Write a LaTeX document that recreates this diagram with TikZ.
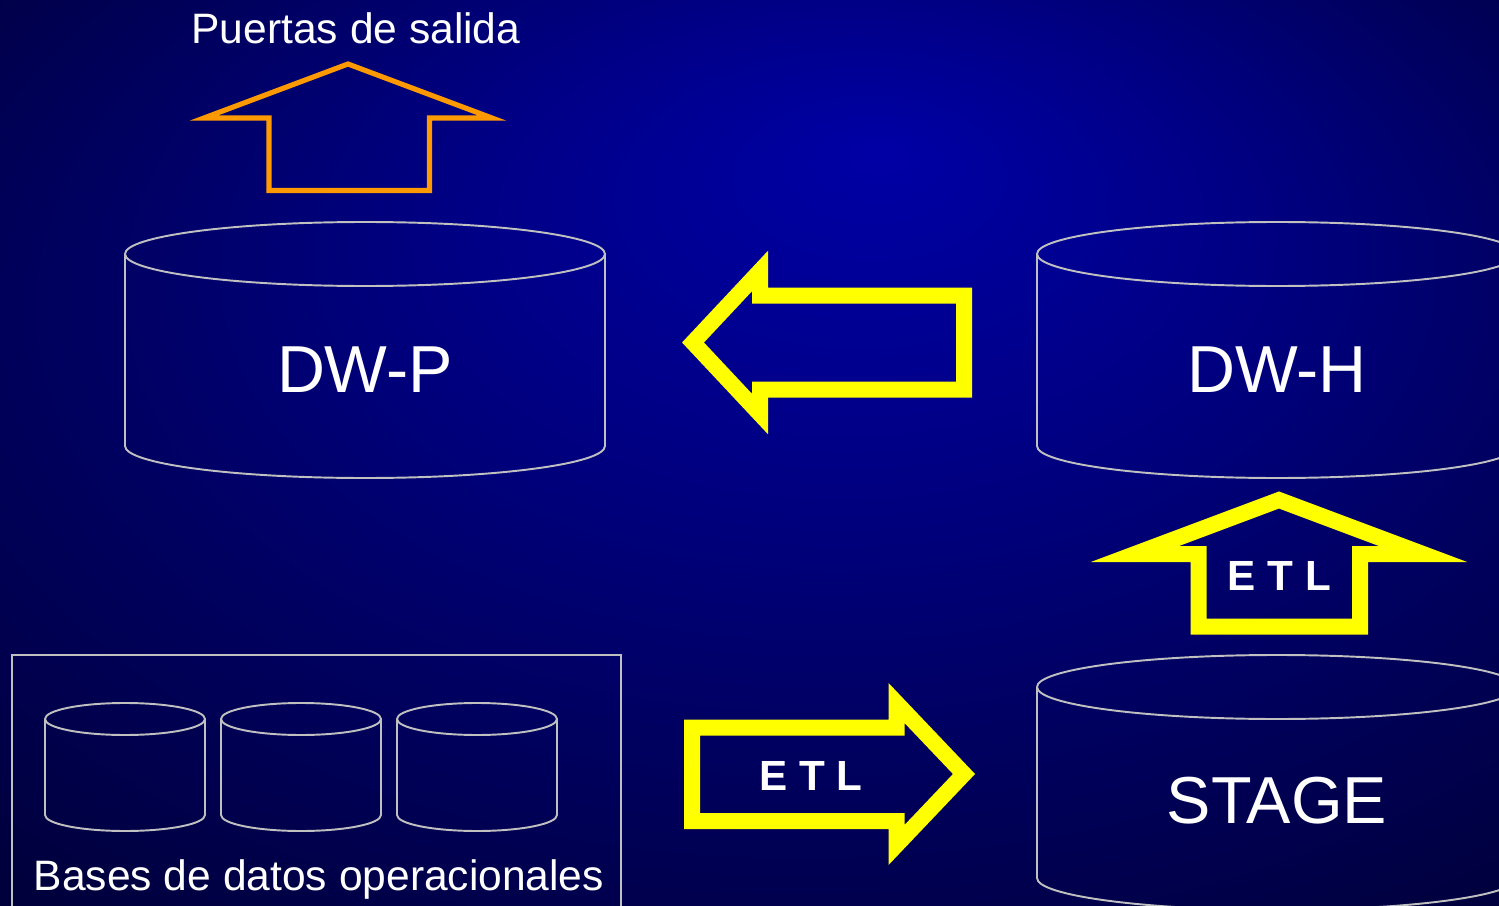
\documentclass[tikz,border=0pt]{standalone}
\usepackage{fontspec}
\setmainfont{Liberation Sans}
\usepackage{xcolor}
\usepackage{tikz}
\definecolor{dwgrey}{RGB}{192,192,192}
\definecolor{etlyellow}{RGB}{255,255,0}
\definecolor{gateorange}{RGB}{255,153,0}
\definecolor{bgglowA}{RGB}{0,0,165}
\definecolor{bgglowB}{RGB}{0,0,135}
\definecolor{bgglowC}{RGB}{0,0,95}
\definecolor{bgglowD}{RGB}{0,0,60}
\definecolor{bgglowE}{RGB}{0,0,46}
\pgfdeclareradialshading{bgglow}{\pgfpoint{4.4bp}{16.7bp}}{%
  color(0bp)=(bgglowA); color(12bp)=(bgglowB); color(25bp)=(bgglowC);
  color(38bp)=(bgglowD); color(50bp)=(bgglowE)}

\begin{document}
\begin{tikzpicture}[
  x=0.01cm, y=-0.01cm,
  drumline/.style={draw=dwgrey, line width=0.55pt},
  drumtext/.style={text=white, font=\fontsize{18.9}{20}\selectfont, anchor=base, inner sep=0pt},
  captext/.style={text=white, font=\fontsize{12.1}{14}\selectfont, anchor=base, inner sep=0pt},
  etltext/.style={text=white, font=\fontsize{12}{14}\selectfont\bfseries, anchor=base, inner sep=0pt},
  etlarrow/.style={draw=etlyellow, line width=4.55pt},
  gatearrow/.style={draw=gateorange, line width=1.45pt},
  pics/drum/.style n args={3}{code={
    \draw[drumline] (0,0) ellipse [x radius=#1, y radius=#2];
    \draw[drumline] (-#1,0) -- (-#1,#3)
      arc [start angle=180, end angle=0, x radius=#1, y radius=#2] -- (#1,0);
  }}]

\useasboundingbox (0,0) rectangle (1499,906);
\clip (0,0) rectangle (1499,906);
\shade[shading=bgglow] (0,0) rectangle (1499,906);

% data stores
\pic at (365,254) {drum={240}{32}{192}};
\pic at (1277,254) {drum={240}{32}{192}};
\pic at (1277,687) {drum={240}{32}{191}};
\node[drumtext] (dwp) at (365,392) {DW-P};
\node[drumtext] (dwh) at (1277,392) {DW-H};
\node[drumtext] (stage) at (1277,823) {STAGE};

% operational sources
\draw[drumline] (12,655) rectangle (621,930);
\pic at (125,719) {drum={80}{16}{96}};
\pic at (301,719) {drum={80}{16}{96}};
\pic at (477,719) {drum={80}{16}{96}};
\node[captext] (opdb) at (319,890) {Bases de datos operacionales};

% output gates
\node[captext] (gates) at (356,43) {Puertas de salida};
\draw[gatearrow] (269,118) -- (204,118) -- (348,64) -- (492,118)
  -- (429.5,118) -- (429.5,190.5) -- (269,190.5) -- cycle;

% flows
\draw[etlarrow] (964,295.5) -- (760,295.5) -- (760,271) -- (693,342.5)
  -- (760,414) -- (760,389.5) -- (964,389.5) -- cycle;
\draw[etlarrow] (692,727.5) -- (896.5,727.5) -- (896.5,703) -- (964,774)
  -- (896.5,845) -- (896.5,821) -- (692,821) -- cycle;
\draw[etlarrow] (1198.5,626.5) -- (1198.5,554) -- (1135,554) -- (1279,500)
  -- (1423,554) -- (1360,554) -- (1360,626.5) -- cycle;
\node[etltext] (etlin) at (811,790) {E T L};
\node[etltext] (etlup) at (1279.5,590) {E T L};
\end{tikzpicture}
\end{document}
